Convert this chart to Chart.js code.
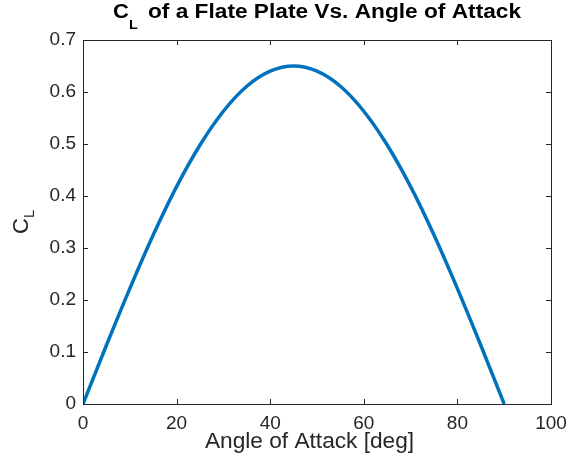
<!DOCTYPE html>
<html>
<head>
<meta charset="utf-8">
<script src="https://cdn.jsdelivr.net/npm/chart.js@4"></script>
<style>
  html, body { margin: 0; padding: 0; background: #fff; }
  canvas { display: block; }
</style>
</head>
<body>
<canvas id="chart" width="569" height="459"></canvas>
<script>
// angle of attack [deg] and lift coefficient
const angles = [0, 5, 10, 15, 20, 25, 30, 35, 40, 45, 50, 55, 60, 65, 70, 75, 80, 85, 90];
const clValues = [0, 0.113, 0.222, 0.325, 0.418, 0.498, 0.563, 0.611, 0.640, 0.650,
  0.640, 0.611, 0.563, 0.498, 0.418, 0.325, 0.222, 0.113, 0];
const xTicks = [0, 20, 40, 60, 80, 100];
const yTicks = [0, 0.1, 0.2, 0.3, 0.4, 0.5, 0.6, 0.7];

const axisColor = "#262626";
const font = "Liberation Sans, Arial, Helvetica, sans-serif";

// text drawn a bit wider, the way the original renderer does it
function wideText(ctx, text, x, y, stretch) {
  ctx.save();
  ctx.translate(x, y);
  ctx.scale(stretch, 1);
  ctx.fillText(text, 0, 0);
  ctx.restore();
  return ctx.measureText(text).width * stretch;
}

// box around the axes plus inward tick marks, MATLAB style
const boxPlugin = {
  id: "box",
  afterDraw(chart) {
    const { ctx, chartArea: a, scales } = chart;
    ctx.save();
    ctx.strokeStyle = axisColor;
    ctx.lineWidth = 1;
    ctx.strokeRect(a.left + 0.5, a.top + 0.5, a.right - a.left, a.bottom - a.top);
    ctx.beginPath();
    xTicks.forEach((v) => {
      const x = Math.round(scales.x.getPixelForValue(v)) + 0.5;
      ctx.moveTo(x, a.bottom);
      ctx.lineTo(x, a.bottom - 5);
      ctx.moveTo(x, a.top);
      ctx.lineTo(x, a.top + 5);
    });
    yTicks.forEach((v) => {
      const y = Math.round(scales.y.getPixelForValue(v)) + 0.5;
      ctx.moveTo(a.left, y);
      ctx.lineTo(a.left + 5, y);
      ctx.moveTo(a.right, y);
      ctx.lineTo(a.right - 5, y);
    });
    ctx.stroke();

    ctx.textBaseline = "alphabetic";
    ctx.textAlign = "left";

    // title: C with subscript L, then the rest
    ctx.fillStyle = "#000";
    ctx.font = "bold 20px " + font;
    const wC = wideText(ctx, "C", 113, 18, 1.1);
    ctx.font = "bold 13px " + font;
    wideText(ctx, "L", 113 + wC, 29, 1.1);
    ctx.font = "bold 20px " + font;
    wideText(ctx, "of a Flate Plate Vs. Angle of Attack", 148, 18, 1.134);

    // x label
    ctx.fillStyle = axisColor;
    ctx.font = "22px " + font;
    wideText(ctx, "Angle of Attack [deg]", 205, 448, 1.03);

    // y label, rotated
    ctx.translate(28, 234);
    ctx.rotate(-Math.PI / 2);
    ctx.font = "22px " + font;
    ctx.fillText("C", 0, 0);
    const wCy = ctx.measureText("C").width;
    ctx.font = "15px " + font;
    ctx.fillText("L", wCy, 6);
    ctx.restore();
  },
};

new Chart(document.getElementById("chart"), {
  type: "line",
  data: {
    labels: angles,
    datasets: [
      {
        data: angles.map((a, i) => ({ x: a, y: clValues[i] })),
        borderColor: "#0072BD",
        borderWidth: 3.5,
        pointRadius: 0,
        cubicInterpolationMode: "monotone",
        fill: false,
      },
    ],
  },
  options: {
    responsive: false,
    animation: false,
    layout: { padding: { top: 40, right: 18, left: 0, bottom: 0 } },
    plugins: {
      legend: { display: false },
      tooltip: { enabled: false },
      title: { display: false },
    },
    scales: {
      x: {
        type: "linear",
        min: 0,
        max: 100,
        afterFit: (s) => {
          s.height = 55;
          s.paddingLeft = 0;
          s.paddingRight = 0;
        },
        afterBuildTicks: (s) => { s.ticks = xTicks.map((v) => ({ value: v })); },
        grid: { display: false, drawTicks: false },
        border: { display: false },
        ticks: {
          color: axisColor,
          font: { family: font, size: 19 },
          padding: 8,
          maxRotation: 0,
        },
      },
      y: {
        min: 0,
        max: 0.7,
        afterFit: (s) => {
          s.width = 83;
          s.paddingTop = 0;
          s.paddingBottom = 0;
        },
        afterBuildTicks: (s) => { s.ticks = yTicks.map((v) => ({ value: v })); },
        grid: { display: false, drawTicks: false },
        border: { display: false },
        ticks: {
          color: axisColor,
          font: { family: font, size: 19 },
          padding: 7,
          callback: (v) => String(Math.round(v * 10) / 10),
        },
      },
    },
  },
  plugins: [boxPlugin],
});
</script>
</body>
</html>
